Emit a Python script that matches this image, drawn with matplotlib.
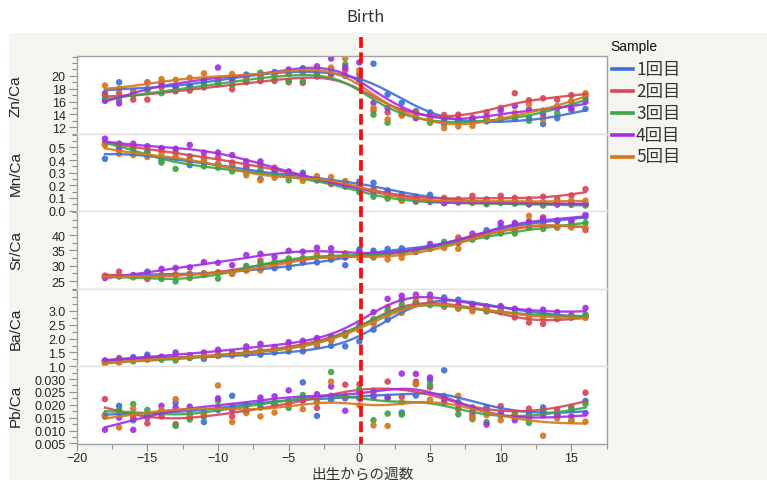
import numpy as np
import matplotlib
matplotlib.use('Agg')
import matplotlib.pyplot as plt
from matplotlib import transforms
from matplotlib.ticker import MultipleLocator, FixedLocator
from matplotlib.patches import Rectangle
from matplotlib.lines import Line2D

plt.rcParams['font.family'] = ['Liberation Sans', 'Noto Sans CJK JP', 'DejaVu Sans']
CJK = ['Noto Sans CJK JP', 'DejaVu Sans']

weeks = list(range(-18, 17))
samples = ['1回目', '2回目', '3回目', '4回目', '5回目']
colors = ['#3f6fd8', '#d5465a', '#3ca544', '#a22fe0', '#d4791f']
birth_week = 0.15

zn_ca = [
    [17.3, 19.0, 17.6, 17.9, 18.6, 18.3, 18.4, 19.0, 19.2, 19.6, 20.2, 20.0, 20.6, 20.3, 21.2, 19.9, 20.3, 20.0, 19.6, 21.9, 17.1, 15.8, 14.5, 14.3, 12.5, 13.0, 13.1, 12.9, 13.2, 13.3, 13.4, 12.5, 13.4, 14.7, 14.85],
    [17.0, 17.3, 16.3, 16.3, 18.2, 17.6, 17.7, 18.2, 18.7, 17.9, 19.0, 19.2, 19.2, 19.0, 18.9, 20.2, 20.2, 20.9, 20.3, 14.6, 14.3, 13.9, 14.3, 13.4, 13.9, 13.95, 13.5, 14.3, 15.0, 17.3, 16.2, 16.5, 16.3, 17.0, 17.0],
    [16.5, 16.3, 17.0, 17.8, 17.3, 17.7, 18.0, 18.5, 19.0, 18.6, 19.1, 20.5, 19.4, 19.2, 19.2, 20.6, 20.9, 21.8, 19.3, 13.95, 12.7, 14.0, 13.6, 12.7, 13.3, 12.8, 13.0, 13.2, 13.4, 13.8, 13.0, 14.6, 14.2, 16.05, 16.5],
    [16.1, 15.7, 17.3, 19.0, 19.0, 18.3, 18.3, 19.4, 21.3, 19.4, 19.8, 19.3, 20.2, 21.0, 20.6, 21.5, 22.7, 21.3, 22.1, 15.8, 15.0, 14.6, 13.4, 13.8, 13.2, 13.2, 13.2, 13.6, 14.6, 15.3, 14.75, 13.95, 15.0, 15.0, 16.0],
    [18.5, 18.0, 17.4, 18.9, 19.5, 19.4, 19.7, 20.4, 19.5, 20.3, 19.8, 19.5, 20.2, 20.5, 20.6, 21.0, 21.3, 22.7, 20.9, 15.0, 13.2, 13.8, 14.2, 13.4, 11.85, 12.1, 12.2, 13.4, 13.4, 14.2, 15.6, 13.2, 15.3, 16.0, 17.3],
]
mn_ca = [
    [0.41, 0.48, 0.46, 0.44, 0.40, 0.42, 0.36, 0.38, 0.37, 0.36, 0.34, 0.25, 0.30, 0.29, 0.30, 0.25, 0.23, 0.22, 0.23, 0.22, 0.16, 0.13, 0.11, 0.125, 0.09, 0.08, 0.07, 0.07, 0.065, 0.06, 0.055, 0.05, 0.05, 0.05, 0.05],
    [0.54, 0.53, 0.50, 0.46, 0.495, 0.46, 0.43, 0.42, 0.42, 0.38, 0.35, 0.36, 0.34, 0.30, 0.27, 0.24, 0.21, 0.20, 0.21, 0.17, 0.13, 0.11, 0.10, 0.09, 0.10, 0.09, 0.117, 0.09, 0.117, 0.10, 0.09, 0.11, 0.09, 0.12, 0.17],
    [0.52, 0.53, 0.49, 0.47, 0.38, 0.33, 0.40, 0.35, 0.34, 0.31, 0.30, 0.32, 0.29, 0.24, 0.26, 0.24, 0.22, 0.20, 0.145, 0.11, 0.094, 0.08, 0.07, 0.075, 0.06, 0.065, 0.06, 0.05, 0.06, 0.055, 0.05, 0.04, 0.05, 0.045, 0.04],
    [0.57, 0.50, 0.53, 0.51, 0.49, 0.49, 0.52, 0.46, 0.46, 0.44, 0.39, 0.39, 0.32, 0.31, 0.28, 0.25, 0.22, 0.19, 0.18, 0.15, 0.145, 0.10, 0.08, 0.07, 0.06, 0.065, 0.07, 0.06, 0.07, 0.065, 0.05, 0.06, 0.05, 0.06, 0.052],
    [0.52, 0.45, 0.44, 0.425, 0.456, 0.425, 0.39, 0.40, 0.37, 0.357, 0.28, 0.24, 0.26, 0.28, 0.235, 0.273, 0.266, 0.234, 0.19, 0.15, 0.11, 0.078, 0.09, 0.08, 0.08, 0.085, 0.07, 0.08, 0.08, 0.075, 0.07, 0.065, 0.07, 0.08, 0.078],
]
sr_ca = [
    [26.5, 26.8, 26.6, 28.1, 27.0, 27.2, 27.3, 27.4, 27.8, 28.0, 28.5, 29.2, 29.2, 29.4, 31.1, 31.1, 32.0, 30.2, 35.3, 34.9, 35.5, 35.7, 35.0, 36.0, 37.0, 38.0, 39.5, 41.6, 42.8, 43.3, 44.0, 44.0, 44.5, 44.8, 46.0],
    [26.8, 28.1, 26.5, 25.7, 26.7, 27.0, 27.2, 27.6, 27.8, 27.4, 29.5, 31.7, 30.5, 31.0, 32.0, 33.0, 33.5, 33.0, 33.5, 33.2, 33.5, 34.0, 34.5, 36.0, 37.0, 39.2, 39.5, 40.0, 41.0, 41.5, 42.5, 45.8, 42.5, 42.8, 41.7],
    [26.3, 26.5, 26.3, 26.4, 25.7, 24.9, 26.0, 27.0, 25.8, 27.5, 30.0, 30.8, 31.3, 32.4, 32.5, 33.5, 33.0, 33.5, 34.0, 32.7, 34.0, 34.0, 34.7, 35.5, 37.8, 37.5, 38.5, 39.5, 40.5, 40.5, 42.8, 42.0, 42.5, 43.5, 44.0],
    [26.0, 26.7, 27.0, 27.5, 29.0, 29.3, 29.5, 31.2, 31.0, 30.2, 33.5, 33.9, 32.9, 34.9, 34.6, 35.9, 35.7, 32.7, 34.5, 34.0, 34.1, 34.5, 35.0, 37.1, 36.8, 37.5, 40.5, 40.0, 44.0, 44.0, 44.5, 45.2, 44.8, 44.5, 46.7],
    [26.4, 26.7, 26.3, 26.4, 26.8, 27.0, 27.5, 27.5, 27.8, 27.5, 28.5, 28.5, 30.0, 31.3, 32.2, 33.5, 32.7, 34.1, 32.4, 33.0, 32.1, 32.6, 35.0, 35.5, 35.8, 35.5, 39.5, 40.5, 41.0, 41.8, 46.3, 42.5, 42.5, 42.5, 42.4],
]
ba_ca = [
    [1.20, 1.22, 1.33, 1.42, 1.30, 1.32, 1.32, 1.27, 1.38, 1.40, 1.42, 1.42, 1.50, 1.54, 1.54, 1.74, 1.74, 1.72, 1.90, 2.32, 2.68, 3.05, 3.31, 3.30, 3.48, 3.40, 3.25, 3.15, 3.10, 3.05, 2.94, 2.90, 2.85, 2.80, 2.80],
    [1.20, 1.30, 1.22, 1.28, 1.30, 1.30, 1.32, 1.38, 1.45, 1.40, 1.55, 1.55, 1.65, 1.70, 1.80, 1.95, 2.00, 2.15, 2.30, 2.55, 3.13, 3.40, 3.30, 3.25, 3.20, 3.15, 3.10, 3.05, 2.95, 2.76, 2.58, 2.53, 2.70, 2.75, 2.80],
    [1.15, 1.14, 1.18, 1.25, 1.24, 1.21, 1.30, 1.35, 1.40, 1.45, 1.50, 1.55, 1.60, 1.65, 1.75, 1.85, 1.95, 2.10, 2.35, 2.70, 3.00, 3.22, 3.25, 3.20, 3.15, 3.10, 3.05, 2.97, 3.00, 2.90, 2.85, 2.88, 2.76, 2.80, 2.86],
    [1.21, 1.25, 1.30, 1.33, 1.35, 1.50, 1.40, 1.50, 1.60, 1.50, 1.72, 1.81, 1.70, 1.87, 1.92, 2.02, 2.08, 2.20, 2.46, 2.95, 3.43, 3.54, 3.58, 3.58, 3.35, 3.22, 3.22, 3.15, 3.17, 3.07, 3.00, 3.04, 2.95, 2.84, 3.10],
    [1.09, 1.15, 1.20, 1.24, 1.28, 1.30, 1.32, 1.35, 1.38, 1.42, 1.48, 1.55, 1.60, 1.65, 1.72, 1.80, 1.92, 2.15, 2.30, 2.55, 2.85, 2.92, 3.46, 3.40, 3.15, 3.07, 2.98, 3.10, 2.97, 2.90, 2.76, 2.72, 2.80, 2.78, 2.74],
]
pb_ca = [
    [0.0154, 0.0196, 0.0140, 0.0160, 0.0170, 0.0208, 0.0165, 0.0133, 0.0180, 0.0235, 0.0200, 0.0210, 0.0200, 0.0215, 0.0287, 0.0157, 0.0220, 0.0225, 0.0250, 0.0255, 0.0230, 0.0170, 0.0236, 0.0295, 0.0334, 0.0210, 0.0190, 0.0190, 0.0170, 0.0160, 0.0165, 0.0190, 0.0160, 0.0138, 0.0215],
    [0.0222, 0.0175, 0.0150, 0.0128, 0.0155, 0.0125, 0.0150, 0.0160, 0.0190, 0.0155, 0.0175, 0.0190, 0.0200, 0.0205, 0.0215, 0.0188, 0.0235, 0.0278, 0.0280, 0.0240, 0.0290, 0.0230, 0.0290, 0.0268, 0.0230, 0.0183, 0.0160, 0.0170, 0.0195, 0.0160, 0.0185, 0.0170, 0.0180, 0.0190, 0.0247],
    [0.0160, 0.0180, 0.0203, 0.0180, 0.0170, 0.0118, 0.0143, 0.0153, 0.0215, 0.0195, 0.0200, 0.0190, 0.0210, 0.0188, 0.0238, 0.0210, 0.0327, 0.0230, 0.0262, 0.0140, 0.0166, 0.0162, 0.0280, 0.0277, 0.0220, 0.0163, 0.0144, 0.0133, 0.0160, 0.0165, 0.0130, 0.0178, 0.0165, 0.0183, 0.0203],
    [0.0103, 0.0150, 0.0103, 0.0150, 0.0196, 0.0190, 0.0193, 0.0170, 0.0225, 0.0180, 0.0180, 0.0228, 0.0233, 0.0256, 0.0220, 0.0241, 0.0271, 0.0177, 0.0225, 0.0230, 0.0225, 0.0321, 0.0320, 0.0306, 0.0208, 0.0200, 0.0175, 0.0123, 0.0160, 0.0140, 0.0150, 0.0160, 0.0160, 0.0155, 0.0168],
    [0.0162, 0.0112, 0.0185, 0.0155, 0.0180, 0.0222, 0.0160, 0.0165, 0.0275, 0.0133, 0.0168, 0.0155, 0.0170, 0.0210, 0.0183, 0.0214, 0.0290, 0.0233, 0.0198, 0.0120, 0.0118, 0.0210, 0.0280, 0.0220, 0.0235, 0.0235, 0.0150, 0.0160, 0.0140, 0.0155, 0.0150, 0.0080, 0.0147, 0.0140, 0.0135],
]

panel_names = ['Zn/Ca', 'Mn/Ca', 'Sr/Ca', 'Ba/Ca', 'Pb/Ca']
panel_data = [zn_ca, mn_ca, sr_ca, ba_ca, pb_ca]
panel_ylim = [(11.0, 23.1), (-0.005, 0.61), (22.5, 47.8), (1.0, 3.79), (0.0048, 0.0349)]
panel_major = [[12, 14, 16, 18, 20], [0.0, 0.1, 0.2, 0.3, 0.4, 0.5], [25, 30, 35, 40],
               [1.0, 1.5, 2.0, 2.5, 3.0], [0.005, 0.010, 0.015, 0.020, 0.025, 0.030]]
panel_minor = [1, 0.05, 2.5, 0.25, 0.0025]
panel_fmt = ['{:.0f}', '{:.1f}', '{:.0f}', '{:.1f}', '{:.3f}']
panel_smooth = [12.0, 8.0, 8.0, 6.0, 20.0]


def smoothing_spline(x, y, lam, grid):
    """Penalised (Whittaker) smoother evaluated on a fine grid."""
    n = len(grid)
    h = grid[1] - grid[0]
    w = np.zeros(n)
    yy = np.zeros(n)
    idx = np.round((np.asarray(x, float) - grid[0]) / h).astype(int)
    w[idx] = 1.0
    yy[idx] = np.asarray(y, float)
    D = np.diff(np.eye(n), 2, axis=0)
    A = np.diag(w) + (lam / h ** 3) * (D.T @ D)
    return np.linalg.solve(A, w * yy)


W, H = 767, 481
fig = plt.figure(figsize=(W / 100, H / 100), dpi=100)
fig.patch.set_facecolor('white')
fig.patches.append(Rectangle((9 / W, 0), 1 - 9 / W, 1 - 34 / H, transform=fig.transFigure,
                             facecolor='#f5f5f0', edgecolor='none', zorder=-10))

left, right, top, bottom = 76.7, 606.7, 57.0, 445.0
ph = (bottom - top) / 5
grid = np.linspace(-18, 16, 341)
axes = []
for i in range(5):
    ptop = top + i * ph
    ax = fig.add_axes([left / W, 1 - (ptop + ph) / H, (right - left) / W, ph / H])
    axes.append(ax)
    ax.set_facecolor('white')
    for s, vals in enumerate(panel_data[i]):
        ax.scatter(weeks, vals, s=22, color=colors[s], edgecolors='none', alpha=0.92, zorder=2)
    for s, vals in enumerate(panel_data[i]):
        z = smoothing_spline(weeks, vals, panel_smooth[i], grid)
        ax.plot(grid, z, color=colors[s], lw=1.7, alpha=0.9, zorder=3)
    ax.set_xlim(-20, 17.5)
    ax.set_ylim(*panel_ylim[i])
    ax.yaxis.set_major_locator(FixedLocator(panel_major[i]))
    ax.yaxis.set_minor_locator(MultipleLocator(panel_minor[i]))
    ax.set_yticklabels([panel_fmt[i].format(v) for v in panel_major[i]])
    ax.tick_params(axis='y', which='major', length=6, width=0.8, color='#909090',
                   labelsize=9, labelcolor='#222222', pad=2)
    ax.tick_params(axis='y', which='minor', length=3.5, width=0.8, color='#909090')
    ax.set_ylabel(panel_names[i], fontsize=11, color='#222222')
    ax.yaxis.set_label_coords((23 - left) / (right - left), 0.5)
    for side in ['left', 'right']:
        ax.spines[side].set_color('#a0a0a0')
        ax.spines[side].set_linewidth(1.0)
    ax.spines['top'].set_color('#a0a0a0' if i == 0 else '#e2e2e2')
    ax.spines['bottom'].set_color('#a0a0a0' if i == 4 else '#e2e2e2')
    ax.spines['top'].set_linewidth(1.0)
    ax.spines['bottom'].set_linewidth(1.0)
    ax.xaxis.set_major_locator(MultipleLocator(5))
    ax.xaxis.set_minor_locator(MultipleLocator(2.5))
    if i < 4:
        ax.tick_params(axis='x', which='both', bottom=False, labelbottom=False)
    else:
        ax.tick_params(axis='x', which='major', length=5, width=0.8, color='#909090',
                       labelsize=9, labelcolor='#222222', pad=1)
        ax.tick_params(axis='x', which='minor', length=3.5, width=0.8, color='#909090')

# birth line (dashed red), spanning all panels and slightly above
trans = transforms.blended_transform_factory(axes[0].transData, fig.transFigure)
fig.lines.append(Line2D([birth_week, birth_week], [1 - 38 / H, 1 - 445 / H], transform=trans,
                        color='#f50f0f', lw=2.7, dashes=(2.9, 1.2), zorder=10))

fig.text(366 / W, 1 - 18 / H, 'Birth', ha='center', va='center', fontsize=12,
         family=CJK, color='#333333')
fig.text(363 / W, 1 - 475 / H, '出生からの週数', ha='center', va='center', fontsize=10.5,
         family=CJK, color='#333333')

# legend
fig.text(610 / W, 1 - 47 / H, 'Sample', ha='left', va='center', fontsize=10, color='#111111')
for s, name in enumerate(samples):
    yy = 1 - (69.5 + 22 * s) / H
    fig.lines.append(Line2D([612 / W, 633 / W], [yy, yy], transform=fig.transFigure,
                            color=colors[s], lw=2.6))
    fig.text(636 / W, yy, name, ha='left', va='center', fontsize=12.5, family=CJK,
             color='#333333')

fig.savefig('out.png', dpi=100, facecolor=fig.get_facecolor())
